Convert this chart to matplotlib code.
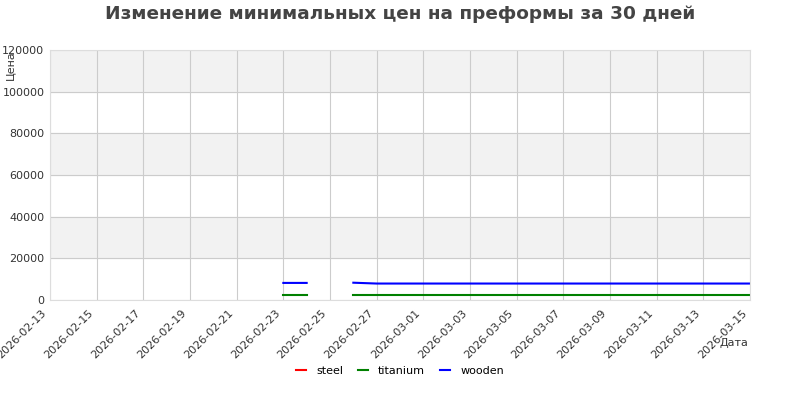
import matplotlib
matplotlib.use("Agg")
import matplotlib.pyplot as plt
import matplotlib.dates as mdates
import matplotlib.transforms as mtransforms
import numpy as np
import pandas as pd

dates = ["2026-02-23", "2026-02-24", "2026-02-25", "2026-02-26", "2026-02-27",
         "2026-02-28", "2026-03-01", "2026-03-02", "2026-03-03", "2026-03-04",
         "2026-03-05", "2026-03-06", "2026-03-07", "2026-03-08", "2026-03-09",
         "2026-03-10", "2026-03-11", "2026-03-12", "2026-03-13", "2026-03-14",
         "2026-03-15"]
nan = np.nan
steel = [nan] * 21
titanium = [2500, 2500, nan, 2500, 2500, 2500, 2500, 2500, 2500, 2500, 2500,
            2500, 2500, 2500, 2500, 2500, 2500, 2500, 2500, 2500, 2500]
wooden = [8200, 8200, nan, 8300, 7900, 7900, 7900, 7900, 7900, 7900, 7900,
          7900, 7900, 7900, 7900, 7900, 7900, 7900, 7900, 7900, 7900]

x = pd.to_datetime(dates)

fig = plt.figure(figsize=(8, 4), dpi=100)
ax = fig.add_axes([0.0625, 0.25, 0.875, 0.625])

# alternating bands
for lo in range(0, 120000, 40000):
    ax.axhspan(lo + 20000, lo + 40000, color="#f2f2f2", zorder=0)

ax.plot(x, steel, color="red", lw=1.5, label="steel")
ax.plot(x, titanium, color="green", lw=1.5, label="titanium")
ax.plot(x, wooden, color="blue", lw=1.5, label="wooden")

ax.set_xlim(pd.Timestamp("2026-02-13"), pd.Timestamp("2026-03-15"))
ax.set_ylim(0, 120000)
ax.set_yticks(range(0, 120001, 20000))
ax.set_xticks(pd.date_range("2026-02-13", "2026-03-15", freq="2D"))
ax.xaxis.set_major_formatter(mdates.DateFormatter("%Y-%m-%d"))
ax.tick_params(labelsize=8, colors="#333333", length=0, pad=4)
shift = mtransforms.ScaledTranslation(-5 / 100, -6 / 100, fig.dpi_scale_trans)
for lab in ax.get_xticklabels():
    lab.set_rotation(45)
    lab.set_ha("right")
    lab.set_va("center")
    lab.set_rotation_mode("anchor")
    lab.set_transform(lab.get_transform() + shift)

ax.grid(True, color="#cccccc", lw=0.8)
ax.set_axisbelow(True)
for s in ax.spines.values():
    s.set_color("#dddddd")

fig.text(0.5, 0.965, "Изменение минимальных цен на преформы за 30 дней",
         ha="center", va="center", fontsize=13.3, fontweight="bold", color="#444444")
fig.text(0.006, 0.875, "Цена", rotation=90, ha="left", va="top", fontsize=8, color="#333333")
fig.text(0.935, 0.142, "Дата", ha="right", va="center", fontsize=8, color="#333333")

fig.legend(loc="center", bbox_to_anchor=(0.5, 0.073), ncol=3, frameon=False,
           fontsize=8, handlelength=0.9, handletextpad=0.9, columnspacing=1.35)

fig.savefig("out.png", dpi=100)
